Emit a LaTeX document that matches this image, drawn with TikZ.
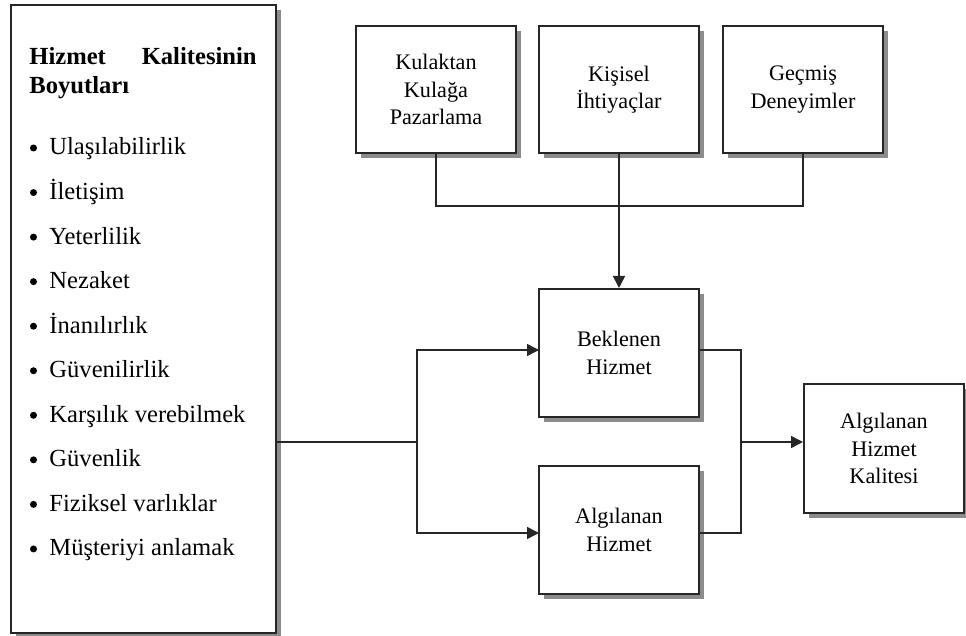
\documentclass[tikz,border=0pt]{standalone}
\usepackage{fontspec}
\setmainfont{Liberation Serif}
\usetikzlibrary{shadows,arrows.meta}
\begin{document}
\begin{tikzpicture}[x=0.5pt,y=-0.5pt,
  box/.style={draw=black!85, line width=1pt, fill=white, minimum width=80pt,
    minimum height=63.5pt, align=center, inner sep=0pt,
    font=\fontsize{11.1}{13.75}\selectfont,
    drop shadow={shadow xshift=2.5pt,shadow yshift=-2.5pt,fill=black!45,opacity=1}},
  conn/.style={draw=black!85, line width=0.75pt},
  arr/.style={conn, -{Triangle[length=6pt,width=6pt]}},
  item/.style={anchor=base west, inner sep=0pt, font=\fontsize{12.3}{14.5}\selectfont},
  dot/.style={circle, fill=black, inner sep=0pt, minimum size=3.5pt},
]
\useasboundingbox (0,0) rectangle (966,636);
% left box
\node[box, minimum width=132.5pt, minimum height=314pt] (L) at (143.5,319) {};
\node[item, font=\fontsize{12.3}{14.5}\selectfont\bfseries] (h1) at (29,65) {Hizmet};
\node[item, anchor=base east, font=\fontsize{12.3}{14.5}\selectfont\bfseries] (h2) at (257,65) {Kalitesinin};
\node[item, font=\fontsize{12.3}{14.5}\selectfont\bfseries] (h3) at (29,94) {Boyutları};
\foreach \t [count=\i from 0] in {Ulaşılabilirlik,İletişim,Yeterlilik,Nezaket,İnanılırlık,Güvenilirlik,Karşılık verebilmek,Güvenlik,Fiziksel varlıklar,Müşteriyi anlamak}{
  \node[dot] (d\i) at (33.5,148+44.55*\i) {};
  \node[item] (b\i) at (49,155+44.55*\i) {\t};
}
% top boxes
\node[box] (K1) at (436,89.5) {Kulaktan\\Kulağa\\Pazarlama};
\node[box] (K2) at (619,89.5) {Kişisel\\İhtiyaçlar};
\node[box] (K3) at (803,89.5) {Geçmiş\\Deneyimler};
% middle boxes
\node[box, minimum height=64pt] (B) at (619,353) {Beklenen\\Hizmet};
\node[box, minimum height=64pt] (A) at (619,530) {Algılanan\\Hizmet};
\node[box, minimum height=64.5pt] (Q) at (884,448.5) {Algılanan\\Hizmet\\Kalitesi};
% junctions
\coordinate (jt) at (619,206);
\coordinate (jl) at (417,442);
\coordinate (jr) at (741,442);
\coordinate (bin) at (539,350);
\coordinate (ain) at (539,533);
\coordinate (bout) at (699,350);
\coordinate (aout) at (699,533);
% connectors
\draw[conn] (K1.south) |- (jt) -| (K3.south);
\draw[arr] (K2.south) -- (B.north);
\draw[conn] (L.east |- jl) -- (jl);
\draw[arr] (jl) |- (bin);
\draw[arr] (jl) |- (ain);
\draw[conn] (bout) -| (jr);
\draw[conn] (aout) -| (jr);
\draw[arr] (jr) -- (jr -| Q.west);
\end{tikzpicture}
\end{document}
